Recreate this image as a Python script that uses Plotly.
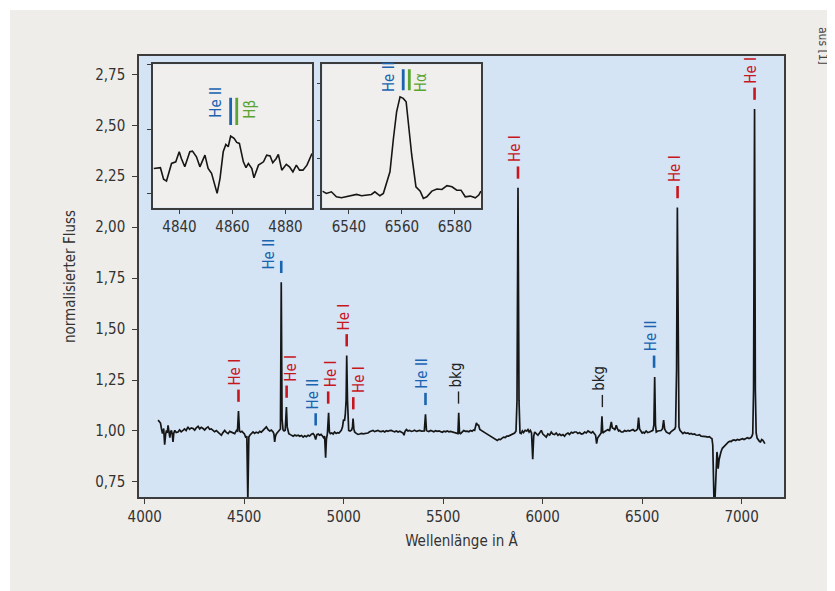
import numpy as np
import plotly.graph_objects as go

# ---------------- data ----------------
wavelength = [4067, 4073, 4079, 4084, 4089, 4095, 4100, 4105, 4109, 4113, 4117, 4121, 4126, 4130, 4134, 4138, 4142, 4146,
              4151, 4158, 4167, 4175, 4183, 4192, 4200, 4208, 4217, 4225, 4234, 4243, 4251, 4259, 4268, 4276, 4284, 4293,
              4301, 4309, 4318, 4326, 4334, 4343, 4351, 4360, 4368, 4376, 4385, 4393, 4402, 4410, 4419, 4427, 4436, 4444,
              4452, 4457, 4461, 4466, 4471, 4476, 4481, 4488, 4494, 4501, 4508, 4513, 4518, 4523, 4528, 4536, 4544, 4552,
              4560, 4570, 4578, 4586, 4595, 4603, 4611, 4620, 4628, 4636, 4645, 4649, 4653, 4657, 4662, 4670, 4678, 4682,
              4686, 4690, 4695, 4700, 4706, 4709, 4712, 4716, 4720, 4724, 4732, 4740, 4746, 4754, 4762, 4771, 4779, 4788,
              4796, 4804, 4812, 4821, 4829, 4838, 4846, 4852, 4859, 4865, 4872, 4879, 4886, 4893, 4899, 4904, 4909, 4913,
              4918, 4924, 4928, 4933, 4940, 4947, 4954, 4962, 4969, 4976, 4982, 4988, 4994, 4999, 5004, 5008, 5012, 5015,
              5019, 5022, 5025, 5032, 5040, 5044, 5047, 5051, 5055, 5063, 5072, 5080, 5089, 5097, 5106, 5114, 5122, 5130,
              5139, 5147, 5155, 5164, 5172, 5181, 5189, 5198, 5206, 5214, 5222, 5231, 5239, 5248, 5256, 5265, 5273, 5282,
              5290, 5298, 5303, 5308, 5315, 5323, 5331, 5340, 5348, 5356, 5365, 5373, 5382, 5390, 5398, 5405, 5411, 5416,
              5420, 5428, 5437, 5445, 5453, 5462, 5470, 5479, 5487, 5495, 5504, 5512, 5520, 5529, 5537, 5546, 5554, 5562,
              5570, 5574, 5578, 5582, 5587, 5595, 5603, 5612, 5620, 5629, 5637, 5645, 5653, 5658, 5664, 5667, 5672, 5678,
              5684, 5692, 5700, 5709, 5717, 5725, 5733, 5742, 5750, 5758, 5766, 5772, 5780, 5788, 5796, 5804, 5812, 5820,
              5828, 5836, 5844, 5852, 5859, 5866, 5871, 5876, 5881, 5886, 5892, 5898, 5904, 5912, 5920, 5926, 5932, 5938,
              5944, 5950, 5955, 5960, 5968, 5976, 5984, 5993, 6001, 6010, 6018, 6026, 6035, 6043, 6051, 6060, 6068, 6077,
              6085, 6093, 6102, 6110, 6118, 6127, 6135, 6144, 6152, 6160, 6169, 6177, 6186, 6194, 6203, 6211, 6219, 6228,
              6236, 6244, 6252, 6260, 6266, 6271, 6276, 6286, 6294, 6298, 6302, 6308, 6318, 6328, 6336, 6340, 6345, 6350,
              6357, 6363, 6370, 6376, 6382, 6387, 6395, 6404, 6412, 6420, 6429, 6437, 6446, 6454, 6462, 6471, 6477, 6482,
              6487, 6492, 6500, 6506, 6512, 6520, 6528, 6537, 6545, 6554, 6559, 6563, 6567, 6571, 6579, 6588, 6595, 6602,
              6608, 6613, 6621, 6630, 6638, 6646, 6652, 6658, 6664, 6668, 6673, 6677, 6681, 6685, 6690, 6697, 6705, 6713,
              6721, 6730, 6738, 6746, 6755, 6763, 6771, 6780, 6788, 6796, 6805, 6813, 6821, 6830, 6838, 6845, 6851, 6855,
              6858, 6861, 6866, 6871, 6876, 6879, 6882, 6887, 6891, 6896, 6903, 6908, 6912, 6918, 6925, 6934, 6942, 6948,
              6954, 6962, 6970, 6979, 6987, 6995, 7004, 7012, 7020, 7029, 7037, 7046, 7052, 7056, 7060, 7065, 7069, 7073,
              7078, 7084, 7090, 7095, 7101, 7107, 7112, 7117]
flux = [1.053, 1.045, 1.039, 1.010, 0.987, 1.012, 0.933, 0.985, 1.003, 0.990, 1.028, 1.000, 0.967, 0.995, 1.003, 0.985, 0.946, 0.990,
        1.003, 0.992, 0.995, 1.005, 0.996, 1.003, 1.010, 1.002, 1.020, 1.008, 1.015, 1.012, 1.004, 1.016, 1.023, 1.010, 1.018, 1.012,
        1.005, 1.014, 1.020, 1.008, 1.010, 1.003, 0.996, 1.002, 0.995, 0.990, 0.979, 0.992, 1.003, 0.993, 0.987, 0.998, 0.995, 0.992,
        0.987, 0.996, 1.003, 1.000, 1.098, 1.000, 0.995, 0.998, 0.990, 0.985, 0.967, 0.975, 0.660, 0.970, 0.979, 0.990, 0.995, 0.988,
        0.994, 0.990, 0.998, 0.994, 1.003, 1.008, 1.020, 1.006, 1.000, 1.004, 0.995, 0.985, 0.946, 0.975, 0.987, 0.996, 1.003, 1.010,
        1.730, 1.060, 1.005, 1.000, 1.004, 1.040, 1.118, 1.020, 0.995, 0.987, 0.982, 0.978, 0.974, 0.980, 0.976, 0.979, 0.974, 0.978,
        0.970, 0.976, 0.972, 0.979, 0.975, 0.984, 0.987, 0.980, 0.958, 0.982, 0.985, 0.979, 0.983, 0.975, 0.967, 0.975, 0.869, 0.960,
        0.987, 1.089, 0.995, 0.987, 0.990, 0.985, 0.995, 0.988, 0.992, 0.990, 0.998, 1.003, 1.020, 1.056, 1.050, 1.083, 1.150, 1.370,
        1.150, 1.030, 1.003, 1.000, 1.005, 1.020, 1.061, 1.010, 0.995, 0.988, 0.983, 0.985, 0.988, 0.986, 0.988, 0.990, 0.990, 0.996,
        1.000, 1.003, 0.997, 1.002, 1.003, 0.998, 0.997, 1.000, 0.995, 1.001, 0.998, 1.002, 1.003, 0.999, 0.996, 1.000, 0.995, 0.999,
        0.996, 0.990, 0.979, 0.998, 1.007, 1.000, 1.003, 0.998, 1.000, 1.004, 0.998, 1.001, 1.003, 0.999, 1.001, 1.000, 1.082, 1.002,
        1.000, 0.997, 1.002, 1.000, 0.996, 1.001, 0.998, 1.000, 0.996, 0.994, 0.999, 0.996, 1.000, 0.996, 0.998, 0.995, 0.996, 0.993,
        0.990, 0.987, 1.089, 0.990, 0.987, 0.997, 1.002, 0.998, 0.999, 0.996, 1.002, 0.999, 1.005, 1.003, 1.020, 1.039, 1.030, 1.028,
        1.008, 1.002, 0.995, 0.992, 0.987, 0.982, 0.976, 0.970, 0.968, 0.962, 0.958, 0.954, 0.960, 0.958, 0.965, 0.970, 0.968, 0.975,
        0.975, 0.979, 0.982, 0.985, 0.990, 1.000, 1.150, 2.193, 1.150, 0.990, 0.987, 1.000, 0.992, 1.003, 1.000, 1.007, 0.995, 1.003,
        0.990, 0.861, 0.975, 0.995, 0.985, 0.979, 0.990, 1.003, 0.985, 0.978, 0.970, 0.985, 0.980, 0.995, 0.985, 0.982, 0.990, 0.979,
        0.985, 0.978, 0.982, 0.974, 0.985, 0.990, 0.983, 0.994, 0.990, 0.995, 0.995, 0.988, 0.992, 0.985, 0.987, 0.995, 0.990, 1.000,
        0.995, 0.990, 0.996, 0.985, 0.979, 0.938, 0.965, 0.979, 0.990, 1.072, 0.990, 0.995, 1.000, 1.007, 1.000, 1.015, 1.044, 1.015,
        1.012, 1.005, 1.028, 1.010, 1.000, 1.003, 0.995, 0.995, 1.002, 0.998, 1.003, 1.000, 1.005, 1.007, 1.000, 1.003, 1.010, 1.066,
        1.010, 1.003, 0.990, 0.994, 0.990, 1.000, 0.992, 0.995, 1.000, 1.003, 1.030, 1.265, 1.030, 0.995, 1.000, 1.003, 1.002, 1.010,
        1.053, 1.010, 0.995, 0.990, 0.987, 0.997, 1.000, 1.003, 1.010, 1.020, 1.300, 2.097, 1.300, 1.020, 1.003, 0.995, 0.987, 0.993,
        0.988, 0.990, 0.985, 0.988, 0.983, 0.985, 0.980, 0.979, 0.982, 0.975, 0.974, 0.976, 0.972, 0.970, 0.972, 0.966, 0.962, 0.930,
        0.823, 0.660, 0.660, 0.758, 0.897, 0.870, 0.815, 0.860, 0.885, 0.897, 0.915, 0.920, 0.929, 0.935, 0.940, 0.946, 0.950, 0.948,
        0.954, 0.956, 0.953, 0.958, 0.955, 0.960, 0.962, 0.958, 0.964, 0.967, 0.963, 0.967, 0.975, 0.987, 1.200, 2.580, 1.200, 0.990,
        0.965, 0.954, 0.948, 0.946, 0.958, 0.954, 0.945, 0.938]

# inset: H-beta region
hb_wavelength = [4830.3, 4832.8, 4834.0, 4835.1, 4837.0, 4838.6, 4839.9, 4840.7, 4842.0, 4843.9, 4844.9, 4846.4, 4847.7,
                 4849.6, 4850.8, 4852.1, 4854.2, 4855.3, 4856.5, 4857.5, 4858.4, 4859.3, 4860.6, 4861.6, 4862.6, 4864.1,
                 4865.1, 4866.0, 4867.3, 4868.1, 4869.8, 4871.7, 4872.9, 4874.2, 4875.2, 4876.5, 4877.3, 4878.6, 4880.3,
                 4881.5, 4882.8, 4884.1, 4885.3, 4886.6, 4888.1, 4890.0]
hb_flux = [1.0194, 1.0200, 1.0111, 1.0096, 1.0233, 1.0246, 1.0324, 1.0272, 1.0207, 1.0324, 1.0329, 1.0285, 1.0207,
           1.0298, 1.0195, 1.0156, 1.0000, 1.0117, 1.0324, 1.0381, 1.0363, 1.0446, 1.0428, 1.0397, 1.0389, 1.0246,
           1.0200, 1.0233, 1.0194, 1.0122, 1.0220, 1.0246, 1.0298, 1.0292, 1.0239, 1.0272, 1.0304, 1.0181, 1.0226,
           1.0207, 1.0168, 1.0220, 1.0181, 1.0181, 1.0220, 1.0311]

# inset: H-alpha region
ha_wavelength = [6530.0, 6531.5, 6533.4, 6535.3, 6537.2, 6539.1, 6541.0, 6542.9, 6544.8, 6546.7, 6548.5, 6549.8, 6551.7,
                 6553.0, 6554.2, 6555.5, 6556.8, 6558.0, 6559.3, 6560.5, 6561.6, 6562.4, 6563.7, 6565.3, 6566.9, 6568.1,
                 6569.4, 6571.3, 6573.2, 6575.1, 6577.0, 6578.9, 6580.7, 6582.3, 6583.9, 6585.8, 6587.7, 6589.0, 6589.8]
ha_flux = [1.0125, 1.0063, 1.0107, 0.9974, 0.9947, 0.9974, 1.0001, 1.0037, 1.0001, 1.0019, 1.0037, 1.0107, 1.0001,
           1.0063, 1.0330, 1.0640, 1.1530, 1.2240, 1.2640, 1.2600, 1.2510, 1.1970, 1.1090, 1.0240, 1.0125, 0.9930,
           0.9974, 1.0125, 1.0180, 1.0170, 1.0270, 1.0240, 1.0150, 1.0150, 0.9974, 0.9992, 0.9947, 1.0019, 1.0125]

# line identifications
line_wl = [4471, 4686, 4713, 4859, 4922, 5015, 5048, 5411, 5577, 5876, 6300, 6560, 6678, 7065]
line_text = ["He I", "He II", "He I", "He II", "He I", "He I", "He I", "He II", "bkg", "He I", "bkg", "He II", "He I", "He I"]
line_kind = ["HeI", "HeII", "HeI", "HeII", "HeI", "HeI", "HeI", "HeII", "bkg", "HeI", "bkg", "HeII", "HeI", "HeI"]

x_ticks = [4000, 4500, 5000, 5500, 6000, 6500, 7000]
y_ticks = [0.75, 1.00, 1.25, 1.50, 1.75, 2.00, 2.25, 2.50, 2.75]
y_ticktext = ["0,75", "1,00", "1,25", "1,50", "1,75", "2,00", "2,25", "2,50", "2,75"]
hb_ticks = [4840, 4860, 4880]
ha_ticks = [6540, 6560, 6580]

# axis ranges
main_xrange = [3971, 7213]
main_yrange = [0.676, 2.84]
hb_xrange = [4830, 4890]
hb_yrange = [0.9888, 1.1005]
ha_xrange = [6530, 6590]
ha_yrange = [0.968, 1.351]

# ---------------- style ----------------
FONT = "Liberation Sans Narrow, DejaVu Sans Condensed, Arial Narrow, sans-serif"
COL = {"HeI": "#c8161e", "HeII": "#1a64b0", "bkg": "#222222", "H": "#5aa532"}
AX = "#3c3c3c"
PAGE = "#efedea"
PLOTBG = "#d4e4f5"
INSETBG = "#f0efed"
# label text nudges in pixels (x, y), default (-3, 0)
LABEL_NUDGE = {4686: (-12, -13), 4713: (4, 0), 4922: (3, 0), 5048: (5, 0)}

fig = go.Figure()
fig.add_trace(go.Scatter(x=wavelength, y=flux, mode="lines", line=dict(color="#161616", width=1.7),
                         xaxis="x", yaxis="y", showlegend=False, hoverinfo="skip"))
fig.add_trace(go.Scatter(x=hb_wavelength, y=hb_flux, mode="lines", line=dict(color="#161616", width=1.6),
                         xaxis="x2", yaxis="y2", showlegend=False, hoverinfo="skip"))
fig.add_trace(go.Scatter(x=ha_wavelength, y=ha_flux, mode="lines", line=dict(color="#161616", width=1.6),
                         xaxis="x3", yaxis="y3", showlegend=False, hoverinfo="skip"))

shapes = []
annotations = []

# white page edges (page x/y 8..10 px; body margin supplies 0..8)
shapes.append(dict(type="rect", xref="paper", yref="paper", x0=-131/645, x1=-129/645, y0=-94/441, y1=489/441,
                   fillcolor="white", line=dict(width=0), layer="below"))
shapes.append(dict(type="rect", xref="paper", yref="paper", x0=-131/645, x1=696/645, y0=487/441, y1=489/441,
                   fillcolor="white", line=dict(width=0), layer="below"))

# inset backgrounds, in the insets' own data coordinates so they sit in the inset subplot layer
for xr, yr, rx, ry in (("x2", "y2", hb_xrange, hb_yrange), ("x3", "y3", ha_xrange, ha_yrange)):
    shapes.append(dict(type="rect", xref=xr, yref=yr, x0=rx[0], x1=rx[1], y0=ry[0], y1=ry[1],
                       fillcolor=INSETBG, line=dict(width=0), layer="below"))

wl_arr = np.array(wavelength)
fl_arr = np.array(flux)
TICK_OFF = 0.045
TICK_LEN = 0.06
for wl, txt, kind in zip(line_wl, line_text, line_kind):
    m = (wl_arr >= wl - 6) & (wl_arr <= wl + 6)
    base = fl_arr[m].max() + TICK_OFF
    top = base + TICK_LEN
    c = COL[kind]
    dx, dy = LABEL_NUDGE.get(wl, (-3, 0))
    shapes.append(dict(type="line", xref="x", yref="y", x0=wl, x1=wl, y0=base, y1=top,
                       line=dict(color=c, width=1.4 if kind == "bkg" else 2.6)))
    annotations.append(dict(x=wl, y=top, xref="x", yref="y", text=txt, showarrow=False, textangle=-90,
                            xanchor="center", yanchor="bottom", xshift=dx, yshift=2 + dy,
                            font=dict(family=FONT, size=15, color=c)))

# inset markers (He II / H-beta and He II / H-alpha)
for xr, yr, bw, gw, y0, y1, tl, tr, ty, hname in (
        ("x2", "y2", 4859.3, 4861.6, 1.0532, 1.0745, 4853.8, 4866.6, 1.0570, "Hβ"),
        ("x3", "y3", 6560.5, 6562.8, 1.282, 1.338, 6555.4, 6567.5, 1.272, "Hα")):
    shapes.append(dict(type="line", xref=xr, yref=yr, x0=bw, x1=bw, y0=y0, y1=y1,
                       line=dict(color=COL["HeII"], width=2.8)))
    shapes.append(dict(type="line", xref=xr, yref=yr, x0=gw, x1=gw, y0=y0, y1=y1,
                       line=dict(color=COL["H"], width=2.8)))
    annotations.append(dict(x=tl, y=ty, xref=xr, yref=yr, text="He II", showarrow=False, textangle=-90,
                            xanchor="center", yanchor="bottom", font=dict(family=FONT, size=15, color=COL["HeII"])))
    annotations.append(dict(x=tr, y=ty, xref=xr, yref=yr, text=hname, showarrow=False, textangle=-90,
                            xanchor="center", yanchor="bottom", font=dict(family=FONT, size=15, color=COL["H"])))

annotations.append(dict(x=(823 - 139) / 645, y=(497 - 46) / 441, xref="paper", yref="paper", text="aus [1]",
                        showarrow=False, textangle=90, xanchor="center", yanchor="middle",
                        font=dict(family=FONT, size=12, color="#444444")))

axis_common = dict(showline=True, mirror=True, linecolor=AX, linewidth=1.5, ticks="outside", tickcolor=AX,
                   tickwidth=1.2, showgrid=False, zeroline=False, tickfont=dict(family=FONT, size=15, color="#333333"))

# the page body adds an 8 px margin, so the figure is 8 px smaller and margins shifted accordingly
fig.update_layout(
    width=827, height=583,
    margin=dict(l=131, r=51, t=48, b=94),
    paper_bgcolor=PAGE, plot_bgcolor=PLOTBG,
    font=dict(family=FONT, size=15, color="#333333"),
    xaxis=dict(axis_common, range=main_xrange, tickvals=x_ticks, ticklen=5,
               title=dict(text="Wellenlänge in Å", font=dict(family=FONT, size=15, color="#333333"), standoff=11)),
    yaxis=dict(axis_common, range=main_yrange, tickvals=y_ticks, ticktext=y_ticktext, ticklen=5,
               ticklabelstandoff=4,
               title=dict(text="normalisierter Fluss", font=dict(family=FONT, size=15, color="#333333"), standoff=16)),
    xaxis2=dict(axis_common, domain=[0.0217, 0.2682], anchor="y2", range=hb_xrange, tickvals=hb_ticks, ticklen=4),
    yaxis2=dict(axis_common, domain=[0.6558, 0.9812], anchor="x2", range=hb_yrange,
                tickvals=[1.0, 1.05, 1.1], showticklabels=False, ticklen=4),
    xaxis3=dict(axis_common, domain=[0.2843, 0.5309], anchor="y3", range=ha_xrange, tickvals=ha_ticks, ticklen=4),
    yaxis3=dict(axis_common, domain=[0.6558, 0.9812], anchor="x3", range=ha_yrange,
                tickvals=[1.0, 1.1, 1.2, 1.3], showticklabels=False, ticklen=4),
    shapes=shapes, annotations=annotations,
)

fig.write_html("out.html")
